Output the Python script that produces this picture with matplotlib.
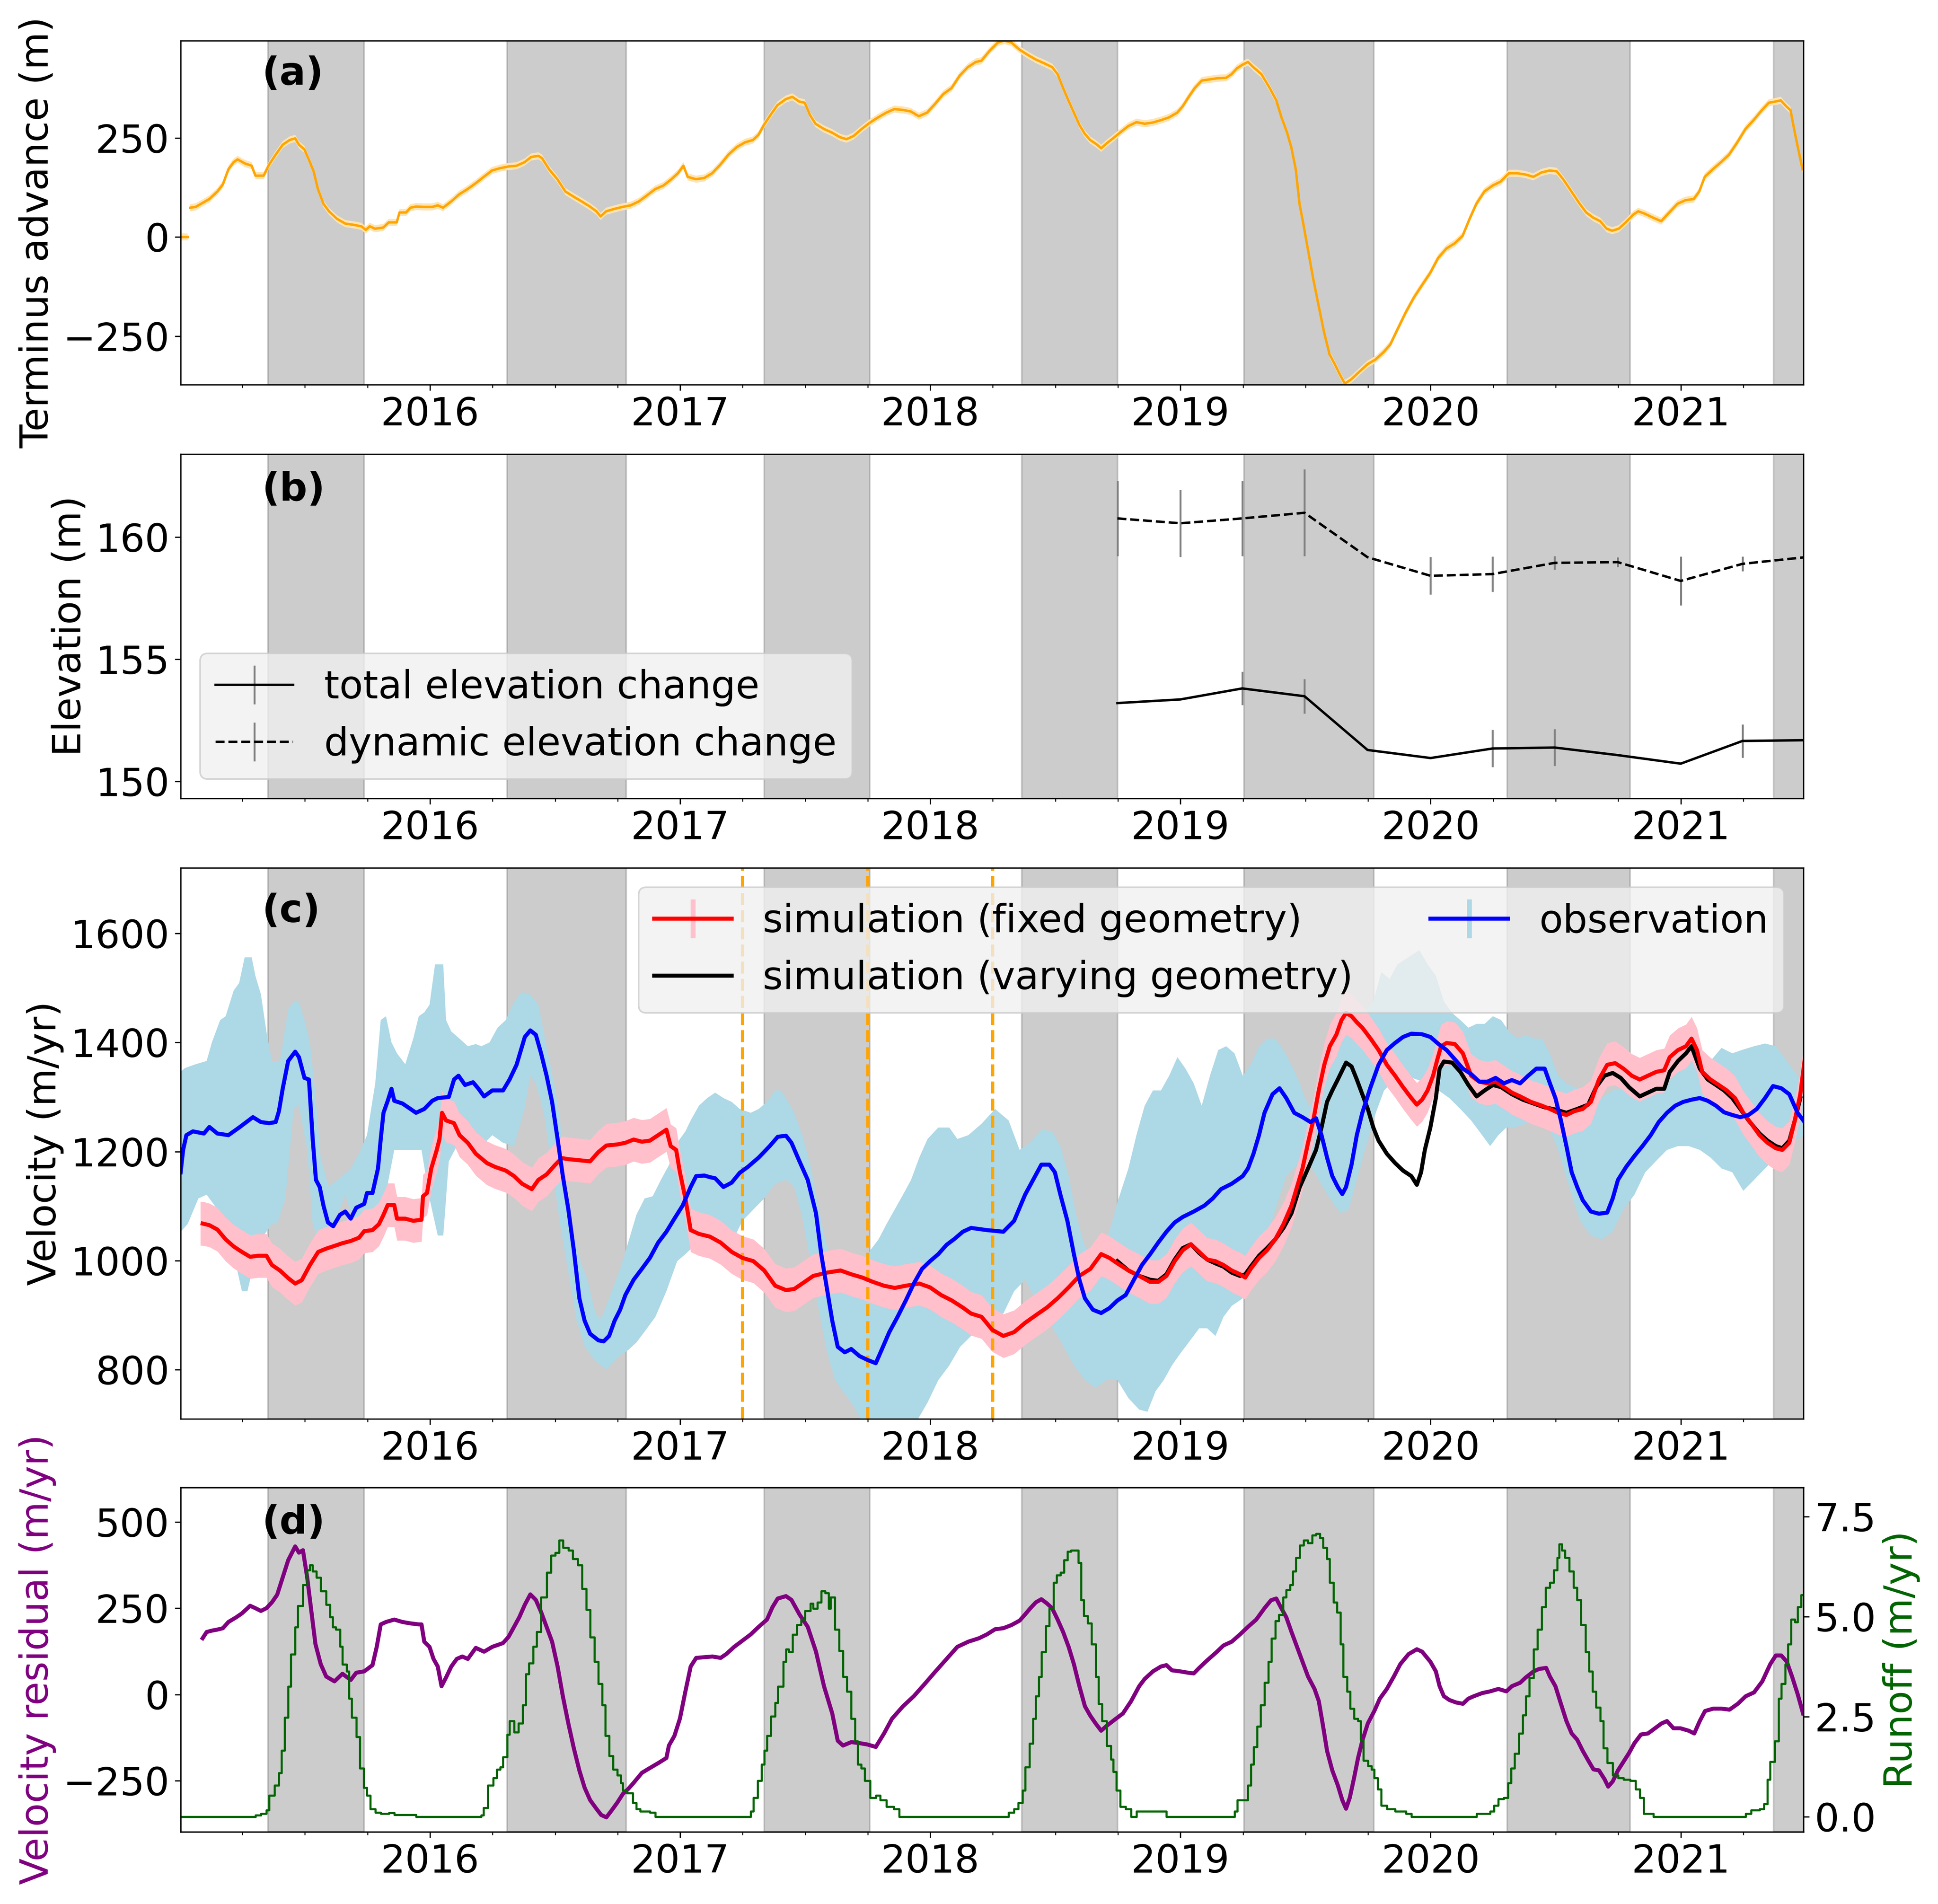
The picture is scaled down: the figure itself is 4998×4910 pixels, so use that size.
import numpy as np
import matplotlib
matplotlib.use('Agg')
import matplotlib.pyplot as plt
from matplotlib.ticker import MultipleLocator, FormatStrFormatter

plt.rcParams['font.size'] = 24
plt.rcParams['font.family'] = ['DejaVu Sans']

nan = np.nan

# ---------------- melt seasons (decimal years) ----------------
melt_start = [2015.352, 2016.309, 2017.336, 2018.366, 2019.253, 2020.306, 2021.371]
melt_end = [2015.737, 2016.784, 2017.758, 2018.748, 2019.773, 2020.797, 2021.600]

# ---------------- (a) terminus advance ----------------
term_t = [2015.003, 2015.031, 2015.036, 2015.041, 2015.063, 2015.085, 2015.118, 2015.150, 2015.172, 2015.194,
          2015.215, 2015.231, 2015.259, 2015.287, 2015.302, 2015.335, 2015.357, 2015.383, 2015.411, 2015.439,
          2015.461, 2015.476, 2015.498, 2015.520, 2015.535, 2015.552, 2015.574, 2015.596, 2015.628, 2015.661,
          2015.693, 2015.726, 2015.743, 2015.759, 2015.780, 2015.813, 2015.835, 2015.867, 2015.878, 2015.904,
          2015.922, 2015.944, 2015.976, 2016.009, 2016.031, 2016.052, 2016.085, 2016.117, 2016.150, 2016.183,
          2016.215, 2016.248, 2016.281, 2016.313, 2016.346, 2016.378, 2016.404, 2016.433, 2016.448, 2016.476,
          2016.509, 2016.541, 2016.574, 2016.606, 2016.639, 2016.665, 2016.682, 2016.704, 2016.737, 2016.769,
          2016.802, 2016.835, 2016.867, 2016.900, 2016.933, 2016.965, 2016.991, 2017.013, 2017.030, 2017.063,
          2017.096, 2017.128, 2017.161, 2017.193, 2017.226, 2017.259, 2017.291, 2017.313, 2017.335, 2017.361,
          2017.389, 2017.422, 2017.448, 2017.476, 2017.498, 2017.519, 2017.541, 2017.574, 2017.606, 2017.639,
          2017.665, 2017.693, 2017.726, 2017.759, 2017.791, 2017.824, 2017.856, 2017.889, 2017.922, 2017.954,
          2017.987, 2018.019, 2018.052, 2018.085, 2018.117, 2018.150, 2018.182,
          2018.204, 2018.237, 2018.270, 2018.296, 2018.324, 2018.357, 2018.389, 2018.422, 2018.454, 2018.487,
          2018.509, 2018.531, 2018.552, 2018.574, 2018.596, 2018.617, 2018.639, 2018.665, 2018.683, 2018.704,
          2018.730, 2018.759, 2018.791, 2018.824, 2018.857, 2018.889, 2018.922, 2018.954, 2018.987, 2019.009,
          2019.030, 2019.057, 2019.085, 2019.117, 2019.150, 2019.183, 2019.204, 2019.226, 2019.248, 2019.270,
          2019.291, 2019.324, 2019.357, 2019.383, 2019.404, 2019.426, 2019.443, 2019.461, 2019.476, 2019.491,
          2019.509, 2019.530, 2019.552, 2019.574, 2019.596, 2019.617, 2019.639, 2019.657, 2019.683, 2019.715,
          2019.748, 2019.780, 2019.813, 2019.839, 2019.867, 2019.900, 2019.933, 2019.965, 2019.998, 2020.030,
          2020.063, 2020.096, 2020.128, 2020.156, 2020.183, 2020.215, 2020.248, 2020.280, 2020.313, 2020.346,
          2020.378, 2020.411, 2020.443, 2020.476, 2020.504, 2020.530, 2020.563, 2020.596, 2020.622, 2020.650,
          2020.678, 2020.704, 2020.726, 2020.752, 2020.780, 2020.809, 2020.830, 2020.856, 2020.889, 2020.922,
          2020.954, 2020.987, 2021.019, 2021.052, 2021.074, 2021.096, 2021.128, 2021.161, 2021.193, 2021.226,
          2021.259, 2021.291, 2021.324, 2021.352, 2021.378, 2021.400, 2021.422, 2021.439, 2021.454, 2021.470,
          2021.487]
term_v = [0, 0, nan, 74, 76, 84, 96, 115, 133, 171,
          189, 196, 186, 180, 155, 155, 183, 208, 233, 245,
          249, 233, 221, 189, 165, 121, 84, 65, 46, 34,
          31, 27, 18, 27, 21, 24, 37, 37, 62, 62,
          74, 77, 76, 76, 80, 74, 90, 108, 121, 136,
          152, 168, 174, 178, 180, 189, 202, 205, 199, 171,
          146, 115, 102, 90, 77, 65, 52, 65, 71, 76,
          80, 90, 105, 121, 130, 146, 161, 180, 152, 146,
          149, 161, 183, 208, 227, 239, 245, 258, 283, 308,
          333, 348, 354, 342, 339, 308, 286, 273, 264, 252,
          247, 255, 273, 289, 302, 314, 323, 321, 317, 305,
          314, 336, 361, 376, 407, 429, 442,
          445, 470, 491, 496, 491, 473, 460, 448, 439, 429,
          411, 376, 345, 314, 283, 261, 245, 234, 224, 236,
          249, 264, 280, 290, 286, 289, 295, 302, 314, 330,
          351, 376, 395, 398, 401, 402, 411, 426, 435, 442,
          429, 411, 376, 345, 302, 264, 227, 171, 84, 34,
          -29, -103, -172, -240, -296, -321, -349, -370, -359, -340,
          -321, -309, -290, -271, -234, -191, -153, -122, -91, -53,
          -29, -16, 3, 46, 84, 115, 130, 140, 161, 161,
          158, 152, 163, 168, 166, 146, 115, 84, 62, 49,
          40, 21, 16, 21, 37, 56, 65, 59, 49, 40,
          62, 84, 93, 96, 115, 152, 171, 189, 208, 239,
          273, 295, 320, 339, 342, 345, 330, 320, 270, 221,
          171]
term_err = 9

# ---------------- (b) elevation ----------------
elev_t = [2018.748, 2019.000, 2019.247, 2019.496, 2019.748, 2020.000,
          2020.247, 2020.496, 2020.748, 2021.000, 2021.247, 2021.496]
total_v = [153.20, 153.35, 153.80, 153.48, 151.28, 150.95,
           151.34, 151.38, 151.07, 150.72, 151.65, 151.68]
total_err = [0, 0, 0.68, 0.70, 0, 0, 0.76, 0.75, 0, 0, 0.68, 0.70]
dyn_v = [160.76, 160.56, 160.76, 160.99, 159.17, 158.41,
         158.48, 158.94, 158.97, 158.20, 158.90, 159.17]
dyn_err = [1.54, 1.37, 1.54, 1.78, 0, 0.77, 0.72, 0.27, 0.20, 1.00, 0.30, 0]

# ---------------- (c) velocity ----------------
obs_t = [2015.003, 2015.013, 2015.026, 2015.052, 2015.096, 2015.118, 2015.150, 2015.194, 2015.237, 2015.292,
         2015.324, 2015.357, 2015.383, 2015.396, 2015.411, 2015.433, 2015.461, 2015.476, 2015.498, 2015.516,
         2015.531, 2015.544, 2015.559, 2015.574, 2015.592, 2015.613, 2015.640, 2015.661, 2015.683, 2015.705,
         2015.737, 2015.748, 2015.770, 2015.792, 2015.803, 2015.814, 2015.831, 2015.846, 2015.857, 2015.890,
         2015.922, 2015.944, 2015.977, 2016.009, 2016.031, 2016.075, 2016.096, 2016.114, 2016.140, 2016.172,
         2016.194, 2016.216, 2016.249, 2016.292, 2016.318, 2016.346, 2016.379, 2016.401, 2016.423, 2016.444,
         2016.466, 2016.488, 2016.510, 2016.531, 2016.553, 2016.575, 2016.597, 2016.618, 2016.640, 2016.673,
         2016.694, 2016.716, 2016.738, 2016.760, 2016.781, 2016.814, 2016.847, 2016.879, 2016.912, 2016.945,
         2016.977, 2017.010, 2017.042, 2017.064, 2017.097, 2017.119, 2017.140, 2017.173, 2017.206, 2017.238,
         2017.271, 2017.314, 2017.358, 2017.390, 2017.423, 2017.445, 2017.477, 2017.510, 2017.543, 2017.564,
         2017.586, 2017.608, 2017.630, 2017.658, 2017.684, 2017.717, 2017.749, 2017.782, 2017.804, 2017.836,
         2017.869, 2017.902, 2017.934, 2017.967, 2017.999, 2018.032, 2018.065, 2018.097, 2018.130, 2018.163,
         2018.226, 2018.292, 2018.335, 2018.379, 2018.411, 2018.444, 2018.476, 2018.498, 2018.520, 2018.548,
         2018.574, 2018.596, 2018.618, 2018.650, 2018.683, 2018.716, 2018.748, 2018.781, 2018.814, 2018.846,
         2018.879, 2018.911, 2018.944, 2018.977, 2019.009, 2019.053, 2019.096, 2019.129, 2019.162, 2019.205,
         2019.249, 2019.270, 2019.292, 2019.314, 2019.336, 2019.368, 2019.396, 2019.423, 2019.455, 2019.488,
         2019.520, 2019.542, 2019.564, 2019.586, 2019.607, 2019.629, 2019.647, 2019.662, 2019.684, 2019.705,
         2019.727, 2019.760, 2019.792, 2019.825, 2019.858, 2019.890, 2019.923, 2019.966, 2019.999, 2020.032,
         2020.064, 2020.097, 2020.129, 2020.162, 2020.195, 2020.227, 2020.260, 2020.293, 2020.325, 2020.358,
         2020.390, 2020.423, 2020.456, 2020.477, 2020.499, 2020.521, 2020.543, 2020.564, 2020.586, 2020.608,
         2020.641, 2020.673, 2020.706, 2020.728, 2020.749, 2020.782, 2020.815, 2020.847, 2020.880, 2020.912,
         2020.945, 2020.978, 2021.010, 2021.043, 2021.076, 2021.108, 2021.141, 2021.173, 2021.206, 2021.238,
         2021.271, 2021.304, 2021.337, 2021.369, 2021.402, 2021.434, 2021.467, 2021.495]
obs_v = [1162, 1203, 1230, 1237, 1233, 1245, 1233, 1230, 1244, 1263,
         1254, 1252, 1254, 1274, 1315, 1366, 1383, 1373, 1335, 1332,
         1223, 1148, 1135, 1101, 1070, 1063, 1084, 1090, 1077, 1097,
         1104, 1124, 1124, 1169, 1223, 1271, 1293, 1315, 1293, 1288,
         1278, 1271, 1278, 1293, 1298, 1300, 1332, 1339, 1322, 1327,
         1315, 1301, 1312, 1312, 1332, 1359, 1410, 1422, 1414, 1380,
         1339, 1291, 1223, 1155, 1094, 1019, 931, 890, 866, 854,
         852, 862, 890, 910, 937, 965, 985, 1005, 1033, 1053,
         1077, 1101, 1135, 1155, 1156, 1153, 1151, 1135, 1143, 1161,
         1172, 1189, 1210, 1227, 1229, 1216, 1182, 1148, 1087, 1012,
         951, 890, 842, 832, 838, 825, 818, 812, 835, 869,
         897, 927, 958, 985, 999, 1012, 1029, 1040, 1053, 1060,
         1056, 1053, 1073, 1121, 1148, 1176, 1176, 1162, 1121, 1073,
         1012, 965, 931, 910, 904, 913, 927, 937, 965, 992,
         1012, 1033, 1053, 1070, 1080, 1090, 1101, 1114, 1131, 1141,
         1155, 1169, 1196, 1230, 1271, 1305, 1316, 1298, 1271, 1263,
         1254, 1261, 1230, 1189, 1155, 1135, 1122, 1135, 1176, 1230,
         1271, 1318, 1359, 1386, 1399, 1410, 1416, 1415, 1410, 1397,
         1386, 1369, 1352, 1342, 1328, 1328, 1335, 1325, 1331, 1325,
         1339, 1352, 1352, 1325, 1298, 1257, 1210, 1162, 1135, 1111,
         1090, 1086, 1088, 1114, 1148, 1172, 1192, 1210, 1230, 1254,
         1271, 1284, 1291, 1295, 1298, 1293, 1284, 1272, 1267, 1263,
         1267, 1278, 1298, 1320, 1316, 1305, 1271, 1254]

obs_up_t = [2015.003, 2015.020, 2015.063, 2015.107, 2015.128, 2015.161, 2015.183, 2015.215, 2015.237, 2015.259,
            2015.287, 2015.302, 2015.324, 2015.346, 2015.368, 2015.400, 2015.433, 2015.455, 2015.476, 2015.498,
            2015.520, 2015.542, 2015.563, 2015.596, 2015.629, 2015.650, 2015.683, 2015.716, 2015.748, 2015.781,
            2015.803, 2015.824, 2015.846, 2015.868, 2015.901, 2015.933, 2015.955, 2015.977, 2015.998, 2016.020,
            2016.053, 2016.064, 2016.085, 2016.118, 2016.151, 2016.183, 2016.205, 2016.238, 2016.270, 2016.303,
            2016.336, 2016.368, 2016.401, 2016.433, 2016.466, 2016.499, 2016.520, 2016.542, 2016.564, 2016.597,
            2016.629, 2016.662, 2016.684, 2016.716, 2016.760, 2016.792, 2016.825, 2016.858, 2016.890, 2016.923,
            2016.955, 2016.988, 2017.021, 2017.042, 2017.075, 2017.108, 2017.140, 2017.173, 2017.206, 2017.238,
            2017.282, 2017.314, 2017.347, 2017.380, 2017.401, 2017.423, 2017.456, 2017.488, 2017.521, 2017.554,
            2017.586, 2017.619, 2017.651, 2017.695, 2017.728, 2017.760, 2017.793, 2017.825, 2017.858, 2017.891,
            2017.923, 2017.956, 2017.989, 2018.032, 2018.076, 2018.108, 2018.152,
            2018.205, 2018.259, 2018.313, 2018.357, 2018.400, 2018.444, 2018.487, 2018.520, 2018.553, 2018.585,
            2018.618, 2018.650, 2018.683, 2018.716, 2018.748, 2018.792, 2018.824, 2018.857, 2018.890, 2018.922,
            2018.955, 2018.988, 2019.020, 2019.053, 2019.085, 2019.118, 2019.151, 2019.183, 2019.216, 2019.249,
            2019.281, 2019.314, 2019.346, 2019.379, 2019.412, 2019.444, 2019.477, 2019.510, 2019.542, 2019.575,
            2019.607, 2019.640, 2019.684, 2019.727, 2019.771, 2019.803, 2019.836, 2019.868, 2019.901, 2019.934,
            2019.955, 2019.988, 2020.021, 2020.053, 2020.086, 2020.119, 2020.151, 2020.184, 2020.216, 2020.249,
            2020.282, 2020.314, 2020.347, 2020.380, 2020.412, 2020.445, 2020.477, 2020.510, 2020.543, 2020.575,
            2020.608, 2020.641, 2020.684, 2020.728, 2020.771, 2020.815, 2020.858, 2020.902, 2020.945, 2020.989,
            2021.032, 2021.076, 2021.119, 2021.163, 2021.206, 2021.250, 2021.293, 2021.337, 2021.380, 2021.424,
            2021.467, 2021.495]
obs_up_v = [1346, 1353, 1360, 1366, 1400, 1441, 1448, 1495, 1509, 1556,
            1556, 1522, 1488, 1420, 1366, 1366, 1461, 1475, 1475, 1441,
            1400, 1305, 1189, 1135, 1148, 1155, 1169, 1196, 1230, 1325,
            1441, 1448, 1400, 1380, 1360, 1407, 1448, 1455, 1469, 1543,
            1543, 1441, 1420, 1407, 1393, 1397, 1393, 1400, 1427, 1441,
            1475, 1492, 1488, 1469, 1393, 1318, 1257, 1142, 1067, 1005,
            965, 903, 893, 931, 985, 1033, 1084, 1114, 1118, 1148,
            1175, 1216, 1237, 1257, 1284, 1298, 1308, 1298, 1291, 1278,
            1271, 1278, 1291, 1312, 1312, 1298, 1271, 1230, 1175, 1094,
            1026, 985, 965, 972, 992, 1019, 1039, 1067, 1094, 1121,
            1148, 1189, 1223, 1244, 1244, 1223, 1230,
            1251, 1278, 1257, 1203, 1216, 1240, 1237, 1210, 1155, 1080,
            1026, 1012, 1012, 1053, 1107, 1169, 1230, 1284, 1312, 1312,
            1339, 1373, 1352, 1325, 1284, 1339, 1386, 1393, 1380, 1339,
            1359, 1393, 1407, 1407, 1386, 1359, 1325, 1284, 1298, 1325,
            1366, 1407, 1441, 1454, 1475, 1529, 1516, 1543, 1553, 1563,
            1569, 1543, 1522, 1475, 1454, 1441, 1427, 1434, 1434, 1448,
            1441, 1420, 1407, 1414, 1407, 1407, 1380, 1339, 1325, 1318,
            1312, 1305, 1298, 1312, 1318, 1312, 1312, 1325, 1339, 1352,
            1366, 1366, 1366, 1390, 1380, 1387, 1393, 1398, 1393, 1366,
            1339, 1325]

obs_lo_t = [2015.003, 2015.031, 2015.074, 2015.107, 2015.150, 2015.205, 2015.248, 2015.270, 2015.302, 2015.335,
            2015.368, 2015.389, 2015.422, 2015.455, 2015.476, 2015.509, 2015.531, 2015.553, 2015.574, 2015.596,
            2015.640, 2015.661, 2015.694, 2015.727, 2015.759, 2015.781, 2015.814, 2015.857, 2015.922, 2015.966,
            2015.998, 2016.031, 2016.053, 2016.075, 2016.107, 2016.151, 2016.205, 2016.249, 2016.292, 2016.336,
            2016.379, 2016.401, 2016.423, 2016.455, 2016.488, 2016.520, 2016.553, 2016.586, 2016.618, 2016.662,
            2016.705, 2016.749, 2016.792, 2016.825, 2016.858, 2016.901, 2016.945, 2016.988, 2017.021, 2017.053,
            2017.097, 2017.140, 2017.173, 2017.206, 2017.249, 2017.293, 2017.336, 2017.380, 2017.423, 2017.456,
            2017.488, 2017.521, 2017.554, 2017.586, 2017.619, 2017.651, 2017.684, 2017.728, 2017.793, 2017.858,
            2017.945, 2017.989, 2018.032, 2018.076, 2018.119, 2018.163,
            2018.205, 2018.259, 2018.292, 2018.335, 2018.379, 2018.444, 2018.509, 2018.574, 2018.618, 2018.661,
            2018.705, 2018.748, 2018.792, 2018.835, 2018.868, 2018.901, 2018.933, 2018.966, 2018.998, 2019.031,
            2019.075, 2019.107, 2019.140, 2019.172, 2019.205, 2019.249, 2019.292, 2019.336, 2019.379, 2019.423,
            2019.466, 2019.510, 2019.553, 2019.597, 2019.640, 2019.673, 2019.705, 2019.738, 2019.781, 2019.814,
            2019.858, 2019.901, 2019.945, 2019.988, 2020.032, 2020.075, 2020.119, 2020.162, 2020.206, 2020.238,
            2020.271, 2020.303, 2020.336, 2020.380, 2020.423, 2020.467, 2020.510, 2020.554, 2020.597, 2020.641,
            2020.684, 2020.728, 2020.771, 2020.815, 2020.858, 2020.902, 2020.945, 2020.989, 2021.032, 2021.076,
            2021.119, 2021.163, 2021.206, 2021.250, 2021.293, 2021.337, 2021.380, 2021.424, 2021.467, 2021.495]
obs_lo_v = [1053, 1067, 1114, 1121, 1094, 1033, 944, 944, 1005, 1046,
            1067, 1067, 1114, 1278, 1284, 1203, 1067, 1039, 1033, 1053,
            1094, 1121, 1073, 1060, 1060, 1067, 1100, 1203, 1203, 1203,
            1114, 1046, 1046, 1182, 1210, 1203, 1210, 1230, 1216, 1210,
            1280, 1339, 1325, 1271, 1169, 1067, 978, 890, 843, 815,
            801, 822, 836, 850, 870, 897, 944, 999, 1012, 1026,
            1067, 1039, 990, 1033, 1073, 1094, 1114, 1141, 1148, 1135,
            1080, 999, 910, 835, 781, 760, 740, 705, 700, 700,
            705, 740, 781, 808, 842, 862,
            897, 900, 903, 944, 965, 910, 862, 808, 781, 767,
            781, 781, 748, 727, 723, 761, 781, 808, 829, 849,
            876, 876, 862, 897, 917, 931, 978, 1026, 1094, 1155,
            1176, 1183, 1148, 1114, 1087, 1094, 1148, 1203, 1271, 1312,
            1332, 1339, 1332, 1325, 1312, 1298, 1278, 1257, 1230, 1210,
            1230, 1244, 1244, 1251, 1257, 1251, 1203, 1135, 1073, 1046,
            1039, 1053, 1094, 1121, 1162, 1183, 1203, 1210, 1210, 1203,
            1189, 1169, 1162, 1128, 1148, 1169, 1189, 1210, 1223, 1230]

sim_t = [2015.091, 2015.118, 2015.150, 2015.183, 2015.215, 2015.248, 2015.281, 2015.313, 2015.346, 2015.368,
         2015.400, 2015.433, 2015.461, 2015.487, 2015.520, 2015.553, 2015.585, 2015.618, 2015.650, 2015.683,
         2015.716, 2015.737, 2015.770, 2015.796, 2015.814, 2015.831, 2015.857, 2015.868, 2015.901, 2015.933,
         2015.966, 2015.972, 2015.988, 2016.005, 2016.027, 2016.038, 2016.048, 2016.064, 2016.096, 2016.118,
         2016.151, 2016.183, 2016.227, 2016.259, 2016.303, 2016.336, 2016.368, 2016.407, 2016.433, 2016.466,
         2016.499, 2016.527, 2016.553, 2016.597, 2016.640, 2016.673, 2016.705, 2016.749, 2016.781, 2016.814,
         2016.847, 2016.879, 2016.912, 2016.945, 2016.962, 2016.984, 2016.999, 2017.021, 2017.042, 2017.075,
         2017.119, 2017.162, 2017.206, 2017.249, 2017.293, 2017.336, 2017.380, 2017.423, 2017.456, 2017.488,
         2017.532, 2017.586, 2017.641, 2017.684, 2017.728, 2017.771, 2017.815, 2017.858, 2017.902, 2017.956,
         2017.999, 2018.043, 2018.086, 2018.130, 2018.163,
         2018.205, 2018.248, 2018.292, 2018.335, 2018.379, 2018.422, 2018.466, 2018.509, 2018.553, 2018.596,
         2018.640, 2018.683, 2018.716, 2018.748, 2018.792, 2018.835, 2018.879, 2018.911, 2018.944, 2018.977,
         2019.009, 2019.042, 2019.075, 2019.107, 2019.140, 2019.172, 2019.205, 2019.238, 2019.259, 2019.281,
         2019.314, 2019.346, 2019.379, 2019.412, 2019.444, 2019.466, 2019.488, 2019.510, 2019.531, 2019.553,
         2019.575, 2019.597, 2019.623, 2019.644, 2019.662, 2019.684, 2019.705, 2019.727, 2019.760, 2019.792,
         2019.825, 2019.858, 2019.890, 2019.923, 2019.945, 2019.966, 2019.988, 2020.010, 2020.027, 2020.042,
         2020.064, 2020.097, 2020.129, 2020.162, 2020.195, 2020.227, 2020.260, 2020.293, 2020.325, 2020.358,
         2020.401, 2020.445, 2020.477, 2020.510, 2020.543, 2020.575, 2020.608, 2020.641, 2020.673, 2020.706,
         2020.738, 2020.771, 2020.804, 2020.836, 2020.869, 2020.902, 2020.934, 2020.956, 2020.989, 2021.021,
         2021.043, 2021.065, 2021.086, 2021.119, 2021.152, 2021.184, 2021.217, 2021.250, 2021.282, 2021.315,
         2021.347, 2021.380, 2021.406, 2021.434, 2021.456, 2021.478, 2021.495]
sim_v = [1068, 1065, 1057, 1039, 1026, 1016, 1007, 1009, 1009, 992,
         982, 968, 958, 964, 992, 1016, 1022, 1027, 1032, 1036,
         1042, 1054, 1056, 1067, 1084, 1102, 1102, 1077, 1077, 1073,
         1075, 1118, 1124, 1169, 1203, 1223, 1271, 1257, 1252, 1230,
         1216, 1196, 1179, 1172, 1165, 1155, 1141, 1131, 1148, 1158,
         1175, 1188, 1186, 1184, 1182, 1199, 1211, 1213, 1216, 1222,
         1218, 1220, 1230, 1240, 1210, 1203, 1162, 1114, 1056, 1049,
         1044, 1033, 1016, 1005, 999, 982, 954, 946, 948, 958,
         972, 978, 982, 975, 969, 961, 954, 950, 954, 958,
         951, 937, 927, 914, 903,
         897, 873, 862, 869, 886, 900, 914, 931, 951, 972,
         985, 1012, 1005, 995, 982, 972, 961, 961, 972, 999,
         1019, 1030, 1016, 1002, 999, 992, 982, 975, 969, 985,
         1005, 1019, 1039, 1067, 1101, 1135, 1169, 1216, 1257, 1312,
         1359, 1393, 1414, 1441, 1454, 1448, 1437, 1427, 1407, 1386,
         1359, 1339, 1318, 1298, 1286, 1295, 1312, 1339, 1369, 1393,
         1399, 1397, 1380, 1339, 1328, 1325, 1328, 1318, 1308, 1301,
         1291, 1284, 1278, 1271, 1267, 1274, 1278, 1291, 1332, 1359,
         1362, 1352, 1339, 1332, 1339, 1346, 1349, 1373, 1386, 1393,
         1407, 1386, 1346, 1332, 1322, 1312, 1298, 1271, 1251, 1230,
         1216, 1206, 1203, 1216, 1257, 1305, 1366]
sim_err = 40

var_t = [2018.748, 2018.792, 2018.835, 2018.879, 2018.911, 2018.944, 2018.977, 2019.009, 2019.042, 2019.075,
         2019.107, 2019.140, 2019.172, 2019.205, 2019.238, 2019.259, 2019.281, 2019.314, 2019.346, 2019.379,
         2019.412, 2019.444, 2019.477, 2019.510, 2019.542, 2019.564, 2019.586, 2019.607, 2019.629, 2019.662,
         2019.684, 2019.705, 2019.727, 2019.749, 2019.771, 2019.792, 2019.825, 2019.858, 2019.890, 2019.923,
         2019.945, 2019.962, 2019.977, 2019.999, 2020.021, 2020.036, 2020.053, 2020.086, 2020.119, 2020.151,
         2020.184, 2020.216, 2020.249, 2020.282, 2020.325, 2020.369, 2020.412, 2020.456, 2020.499, 2020.543,
         2020.586, 2020.630, 2020.662, 2020.695, 2020.728, 2020.760, 2020.793, 2020.836, 2020.869, 2020.902,
         2020.934, 2020.956, 2020.989, 2021.021, 2021.043, 2021.076, 2021.108, 2021.141, 2021.173, 2021.206,
         2021.238, 2021.271, 2021.315, 2021.347, 2021.380, 2021.406, 2021.434, 2021.456, 2021.478]
var_v = [999, 982, 972, 965, 963, 975, 1002, 1023, 1030, 1014,
         1002, 995, 989, 978, 972, 975, 989, 1009, 1023, 1039,
         1060, 1087, 1135, 1169, 1203, 1244, 1291, 1312, 1332, 1363,
         1356, 1332, 1305, 1278, 1244, 1220, 1196, 1179, 1165, 1155,
         1139, 1162, 1203, 1244, 1298, 1352, 1365, 1363, 1346, 1322,
         1301, 1312, 1322, 1318, 1305, 1295, 1288, 1281, 1277, 1271,
         1278, 1286, 1318, 1339, 1344, 1335, 1318, 1301, 1308, 1315,
         1315, 1346, 1366, 1380, 1393, 1352, 1332, 1322, 1312, 1298,
         1278, 1257, 1233, 1220, 1210, 1206, 1220, 1257, 1298]

event_t = [2017.25, 2017.75, 2018.25]

# ---------------- (d) velocity residual and runoff ----------------
res_t = [2015.091, 2015.107, 2015.128, 2015.150, 2015.172, 2015.194, 2015.226, 2015.248, 2015.281, 2015.302,
         2015.324, 2015.346, 2015.368, 2015.389, 2015.411, 2015.433, 2015.461, 2015.476, 2015.492, 2015.509,
         2015.526, 2015.542, 2015.563, 2015.585, 2015.618, 2015.650, 2015.683, 2015.705, 2015.737, 2015.770,
         2015.787, 2015.803, 2015.824, 2015.857, 2015.890, 2015.922, 2015.955, 2015.966, 2015.977, 2015.998,
         2016.014, 2016.031, 2016.046, 2016.064, 2016.085, 2016.107, 2016.129, 2016.151, 2016.183, 2016.216,
         2016.249, 2016.292, 2016.314, 2016.336, 2016.357, 2016.379, 2016.401, 2016.423, 2016.444, 2016.466,
         2016.488, 2016.510, 2016.531, 2016.553, 2016.575, 2016.597, 2016.618, 2016.640, 2016.662, 2016.684,
         2016.705, 2016.727, 2016.749, 2016.771, 2016.792, 2016.814, 2016.847, 2016.879, 2016.912, 2016.945,
         2016.955, 2016.977, 2016.999, 2017.021, 2017.042, 2017.064, 2017.097, 2017.129, 2017.162, 2017.184,
         2017.216, 2017.249, 2017.282, 2017.314, 2017.347, 2017.369, 2017.390, 2017.423, 2017.445, 2017.477,
         2017.510, 2017.543, 2017.575, 2017.608, 2017.630, 2017.651, 2017.684, 2017.717, 2017.749, 2017.782,
         2017.815, 2017.847, 2017.891, 2017.934, 2017.978, 2018.021, 2018.065, 2018.108, 2018.152, 2018.195,
         2018.226, 2018.259, 2018.292, 2018.324, 2018.357, 2018.379, 2018.400, 2018.422, 2018.444, 2018.466,
         2018.487, 2018.509, 2018.531, 2018.553, 2018.574, 2018.596, 2018.618, 2018.640, 2018.661, 2018.683,
         2018.705, 2018.737, 2018.770, 2018.803, 2018.835, 2018.857, 2018.890, 2018.922, 2018.944, 2018.966,
         2018.998, 2019.031, 2019.053, 2019.075, 2019.107, 2019.140, 2019.172, 2019.205, 2019.238, 2019.270,
         2019.303, 2019.336, 2019.362, 2019.383, 2019.401, 2019.423, 2019.444, 2019.466, 2019.488, 2019.510,
         2019.536, 2019.553, 2019.570, 2019.586, 2019.607, 2019.629, 2019.647, 2019.662, 2019.677, 2019.694,
         2019.710, 2019.727, 2019.749, 2019.775, 2019.797, 2019.825, 2019.853, 2019.879, 2019.912, 2019.945,
         2019.966, 2019.999, 2020.021, 2020.036, 2020.053, 2020.075, 2020.101, 2020.129, 2020.151, 2020.173,
         2020.206, 2020.238, 2020.271, 2020.303, 2020.325, 2020.358, 2020.380, 2020.412, 2020.434, 2020.462,
         2020.477, 2020.499, 2020.521, 2020.543, 2020.564, 2020.586, 2020.608, 2020.630, 2020.651, 2020.673,
         2020.695, 2020.710, 2020.728, 2020.749, 2020.771, 2020.793, 2020.815, 2020.841, 2020.869, 2020.897,
         2020.923, 2020.945, 2020.971, 2020.999, 2021.032, 2021.054, 2021.076, 2021.097, 2021.130, 2021.163,
         2021.195, 2021.228, 2021.260, 2021.293, 2021.326, 2021.358, 2021.380, 2021.402, 2021.424, 2021.445,
         2021.467, 2021.489]
res_v = [163, 181, 185, 188, 192, 210, 224, 235, 257, 250,
         242, 250, 267, 289, 339, 389, 429, 411, 418, 339,
         239, 146, 88, 52, 38, 60, 42, 63, 67, 85,
         138, 203, 210, 217, 210, 206, 203, 203, 153, 138,
         103, 81, 24, 49, 81, 103, 110, 103, 135, 124,
         138, 149, 167, 196, 224, 260, 290, 274, 239, 196,
         153, 81, -5, -84, -156, -220, -270, -306, -328, -349,
         -356, -335, -313, -288, -274, -256, -227, -213, -199, -184,
         -148, -120, -70, 9, 81, 106, 108, 110, 106, 117,
         138, 156, 174, 196, 217, 253, 278, 285, 274, 232,
         196, 124, 24, -55, -134, -148, -138, -141, -145, -152,
         -113, -70, -34, -5, 31, 67, 103, 138, 153, 163,
         174, 189, 192, 201, 214, 232, 250, 267, 276, 264,
         250, 217, 181, 138, 88, 24, -34, -62, -84, -105,
         -91, -73, -55, -19, 24, 45, 67, 81, 85, 70,
         67, 63, 61, 77, 99, 120, 142, 153, 174, 196,
         217, 250, 273, 278, 253, 224, 181, 138, 95, 52,
         16, -19, -91, -163, -220, -263, -306, -331, -299, -242,
         -184, -134, -84, -48, -12, 16, 52, 88, 117, 131,
         124, 95, 67, 24, -5, -16, -23, -27, -12, -5,
         4, 9, 16, 9, 24, 34, 49, 67, 74, 77,
         52, 24, -27, -77, -113, -131, -163, -191, -217, -220,
         -245, -267, -252, -220, -195, -170, -141, -116, -113, -98,
         -84, -77, -98, -98, -105, -113, -77, -48, -41, -41,
         -44, -27, -5, 6, 38, 88, 113, 113, 95, 52,
         2, -55]

runoff_t = [2015.003, 2015.302, 2015.324, 2015.346, 2015.357, 2015.379, 2015.396, 2015.407, 2015.418, 2015.433,
            2015.444, 2015.461, 2015.472, 2015.492, 2015.509, 2015.520, 2015.531, 2015.546, 2015.563, 2015.585,
            2015.600, 2015.611, 2015.624, 2015.640, 2015.650, 2015.666, 2015.676, 2015.687, 2015.705, 2015.720,
            2015.735, 2015.748, 2015.761, 2015.781, 2015.803, 2015.835, 2015.857, 2015.944,
            2016.205, 2016.214, 2016.231, 2016.253, 2016.266, 2016.281, 2016.292, 2016.309, 2016.318, 2016.336,
            2016.353, 2016.370, 2016.383, 2016.396, 2016.412, 2016.427, 2016.444, 2016.466, 2016.483, 2016.501,
            2016.516, 2016.531, 2016.553, 2016.570, 2016.590, 2016.607, 2016.625, 2016.640, 2016.657, 2016.673,
            2016.688, 2016.701, 2016.716, 2016.731, 2016.749, 2016.762, 2016.771, 2016.788, 2016.810, 2016.825,
            2016.840, 2016.879, 2016.901,
            2017.282, 2017.293, 2017.310, 2017.325, 2017.336, 2017.347, 2017.362, 2017.380, 2017.390, 2017.412,
            2017.423, 2017.434, 2017.449, 2017.467, 2017.484, 2017.499, 2017.521, 2017.532, 2017.549, 2017.564,
            2017.580, 2017.593, 2017.601, 2017.619, 2017.636, 2017.651, 2017.667, 2017.684, 2017.699, 2017.710,
            2017.723, 2017.738, 2017.760, 2017.782, 2017.799, 2017.825, 2017.854, 2017.875,
            2018.302, 2018.313, 2018.335, 2018.352, 2018.368, 2018.379, 2018.396, 2018.411, 2018.422, 2018.433,
            2018.444, 2018.461, 2018.476, 2018.492, 2018.505, 2018.520, 2018.535, 2018.548, 2018.563, 2018.592,
            2018.603, 2018.613, 2018.629, 2018.644, 2018.661, 2018.672, 2018.687, 2018.705, 2018.722, 2018.731,
            2018.744, 2018.759, 2018.781, 2018.803, 2018.824, 2018.944,
            2019.216, 2019.227, 2019.270, 2019.281, 2019.292, 2019.307, 2019.320, 2019.336, 2019.351, 2019.364,
            2019.379, 2019.394, 2019.410, 2019.423, 2019.438, 2019.449, 2019.462, 2019.477, 2019.492, 2019.510,
            2019.527, 2019.542, 2019.557, 2019.570, 2019.586, 2019.597, 2019.612, 2019.625, 2019.640, 2019.651,
            2019.666, 2019.679, 2019.694, 2019.710, 2019.721, 2019.731, 2019.749, 2019.764, 2019.775, 2019.788,
            2019.803, 2019.825, 2019.858, 2019.901, 2019.923,
            2020.184, 2020.238, 2020.253, 2020.271, 2020.293, 2020.310, 2020.321, 2020.336, 2020.353, 2020.369,
            2020.380, 2020.395, 2020.412, 2020.427, 2020.445, 2020.460, 2020.477, 2020.493, 2020.506, 2020.514,
            2020.525, 2020.538, 2020.554, 2020.571, 2020.586, 2020.601, 2020.619, 2020.634, 2020.647, 2020.662,
            2020.678, 2020.691, 2020.706, 2020.728, 2020.749, 2020.771, 2020.797, 2020.819, 2020.836, 2020.852,
            2020.891,
            2021.260, 2021.282, 2021.315, 2021.332, 2021.347, 2021.358, 2021.376, 2021.391, 2021.402, 2021.417,
            2021.428, 2021.441, 2021.456, 2021.467, 2021.482, 2021.495]
runoff_v = [0, 0.04, 0.07, 0.16, 0.53, 0.78, 1.09, 1.65, 2.48, 3.25,
            4.06, 4.74, 5.27, 5.79, 6.16, 6.29, 6.13, 5.98, 5.64, 5.30,
            4.99, 4.74, 4.68, 4.25, 3.81, 3.63, 2.95, 2.48, 1.99, 1.21,
            0.72, 0.53, 0.19, 0.10, 0.07, 0.09, 0.05, 0,
            0.04, 0.22, 0.78, 0.97, 1.18, 1.24, 1.49, 2.05, 2.39, 2.11,
            2.33, 2.79, 3.56, 3.84, 4.25, 4.62, 5.48, 6.10, 6.53, 6.60,
            6.91, 6.72, 6.66, 6.44, 6.29, 5.70, 5.17, 4.49, 3.87, 3.32,
            2.79, 2.02, 1.52, 1.18, 1.03, 0.84, 0.66, 0.59, 0.35, 0.19,
            0.13, 0.10, 0,
            0.13, 0.47, 0.90, 1.31, 1.65, 2.02, 2.51, 2.85, 3.25, 3.87,
            4.18, 4.12, 4.55, 4.80, 4.93, 5.14, 5.33, 5.20, 5.36, 5.64,
            5.59, 5.20, 5.48, 4.68, 4.15, 3.50, 3.13, 2.45, 1.89, 1.31,
            1.21, 0.90, 0.47, 0.53, 0.41, 0.25, 0.19, 0,
            0, 0.10, 0.19, 0.35, 0.66, 1.24, 1.83, 2.45, 3.01, 3.50,
            4.12, 4.77, 5.20, 5.85, 6.04, 6.10, 6.41, 6.63, 6.66, 6.35,
            5.42, 5.02, 4.83, 4.31, 3.50, 2.82, 2.39, 1.77, 1.43, 1.12,
            0.66, 0.25, 0.19, 0, 0.13, 0,
            0.13, 0.41, 0.78, 1.31, 1.74, 2.26, 2.79, 3.35, 3.87, 4.46,
            4.89, 5.05, 5.48, 5.67, 5.79, 6.13, 6.47, 6.78, 6.91, 6.84,
            7.03, 7.07, 6.97, 6.72, 6.44, 5.85, 5.36, 5.11, 4.31, 3.50,
            3.13, 2.70, 2.45, 2.39, 1.92, 1.40, 1.27, 1.18, 0.97, 0.69,
            0.28, 0.19, 0.13, 0.07, 0,
            0.07, 0.13, 0.28, 0.44, 0.47, 0.84, 1.21, 1.58, 2.08, 2.54,
            3.01, 3.47, 4.18, 4.68, 5.24, 5.73, 5.85, 6.16, 6.47, 6.81,
            6.66, 6.47, 6.13, 5.73, 5.42, 4.80, 4.12, 3.63, 3.13, 2.73,
            2.39, 1.71, 1.34, 1.03, 0.97, 0.93, 0.90, 0.69, 0.47, 0.07,
            0,
            0.07, 0.16, 0.19, 0.32, 0.93, 1.37, 1.89, 2.95, 3.32, 3.81,
            4.31, 4.93, 4.86, 5.24, 5.54, 5.92]

# ---------------- figure ----------------
fig = plt.figure(figsize=(4998 / 300, 4910 / 300), dpi=300)
L, W = 0.0932, 0.8373
ax1 = fig.add_axes([L, 0.7979, W, 0.1808])
ax2 = fig.add_axes([L, 0.5807, W, 0.1809])
ax3 = fig.add_axes([L, 0.2548, W, 0.2894])
ax4 = fig.add_axes([L, 0.0379, W, 0.1809])

for ax in (ax1, ax2, ax3, ax4):
    for s, e in zip(melt_start, melt_end):
        ax.axvspan(s, e, color='grey', alpha=0.4, zorder=0)
    ax.set_xlim(2015.003, 2021.49)
    ax.xaxis.set_major_locator(MultipleLocator(1))
    ax.xaxis.set_minor_locator(MultipleLocator(0.25))
    ax.xaxis.set_major_formatter(FormatStrFormatter('%d'))

# (a)
tt = np.array(term_t)
tv = np.array(term_v, dtype=float)
ax1.fill_between(tt, tv - term_err, tv + term_err, color='#FFE4B2', lw=0, zorder=1)
ax1.plot(tt, tv, color='orange', lw=1.5, zorder=2)
ax1.set_ylim(-373, 496)
ax1.yaxis.set_major_locator(MultipleLocator(250))
ax1.set_ylabel('Terminus advance (m)')
ax1.yaxis.label.set_y(0.442)
ax1.text(0.05, 0.9025, '(a)', transform=ax1.transAxes, fontweight='bold', ha='left', va='center')

# (b)
ax2.errorbar(elev_t, total_v, yerr=total_err, color='k', ecolor='grey', lw=1.5, elinewidth=1.2,
             label='total elevation change', zorder=2)
ax2.errorbar(elev_t, dyn_v, yerr=dyn_err, color='k', ls='--', ecolor='grey', lw=1.5, elinewidth=1.2,
             label='dynamic elevation change', zorder=2)
ax2.set_ylim(149.3, 163.4)
ax2.yaxis.set_major_locator(MultipleLocator(5))
ax2.set_ylabel('Elevation (m)')
ax2.legend(loc='lower left', facecolor='#f0f0f0')
ax2.text(0.05, 0.895, '(b)', transform=ax2.transAxes, fontweight='bold', ha='left', va='center')

# (c)
ax3.fill(np.concatenate([obs_up_t, obs_lo_t[::-1]]), np.concatenate([obs_up_v, obs_lo_v[::-1]]),
         color='lightblue', lw=0, zorder=1)
st = np.array(sim_t)
sv = np.array(sim_v, dtype=float)
ax3.fill_between(st, sv - sim_err, sv + sim_err, color='pink', lw=0, zorder=1.2)
for t in event_t:
    ax3.axvline(t, color='orange', ls='--', lw=2, zorder=1.5)
h_var, = ax3.plot(var_t, var_v, color='black', lw=2.5, zorder=2, label='simulation (varying geometry)')
h_sim = ax3.errorbar(st, sv, yerr=sim_err, errorevery=len(st), color='red', ecolor='pink', lw=2.5,
                     elinewidth=3, zorder=2.1, label='simulation (fixed geometry)')
h_obs = ax3.errorbar(obs_t, obs_v, yerr=0, errorevery=len(obs_t), color='blue', ecolor='lightblue', lw=2.5,
                     elinewidth=3, zorder=2.2, label='observation')
ax3.set_ylim(710, 1720)
ax3.yaxis.set_major_locator(MultipleLocator(200))
ax3.set_ylabel('Velocity (m/yr)')
ax3.legend(handles=[h_sim, h_var, h_obs], loc='upper right', ncol=2, facecolor='#f0f0f0')
ax3.text(0.05, 0.921, '(c)', transform=ax3.transAxes, fontweight='bold', ha='left', va='center')

# (d)
ax4.plot(res_t, res_v, color='purple', lw=2.5, zorder=2)
ax4.set_ylim(-398, 600)
ax4.yaxis.set_major_locator(MultipleLocator(250))
ax4.set_ylabel('Velocity residual (m/yr)', color='purple')
ax4.text(0.05, 0.897, '(d)', transform=ax4.transAxes, fontweight='bold', ha='left', va='center')
ax4b = ax4.twinx()
ax4b.plot(runoff_t, runoff_v, color='darkgreen', lw=1.3, drawstyle='steps-post')
ax4b.set_ylim(-0.38, 8.23)
ax4b.yaxis.set_major_locator(MultipleLocator(2.5))
ax4b.set_ylabel('Runoff (m/yr)', color='darkgreen')

fig.savefig('out.png', dpi=300)
